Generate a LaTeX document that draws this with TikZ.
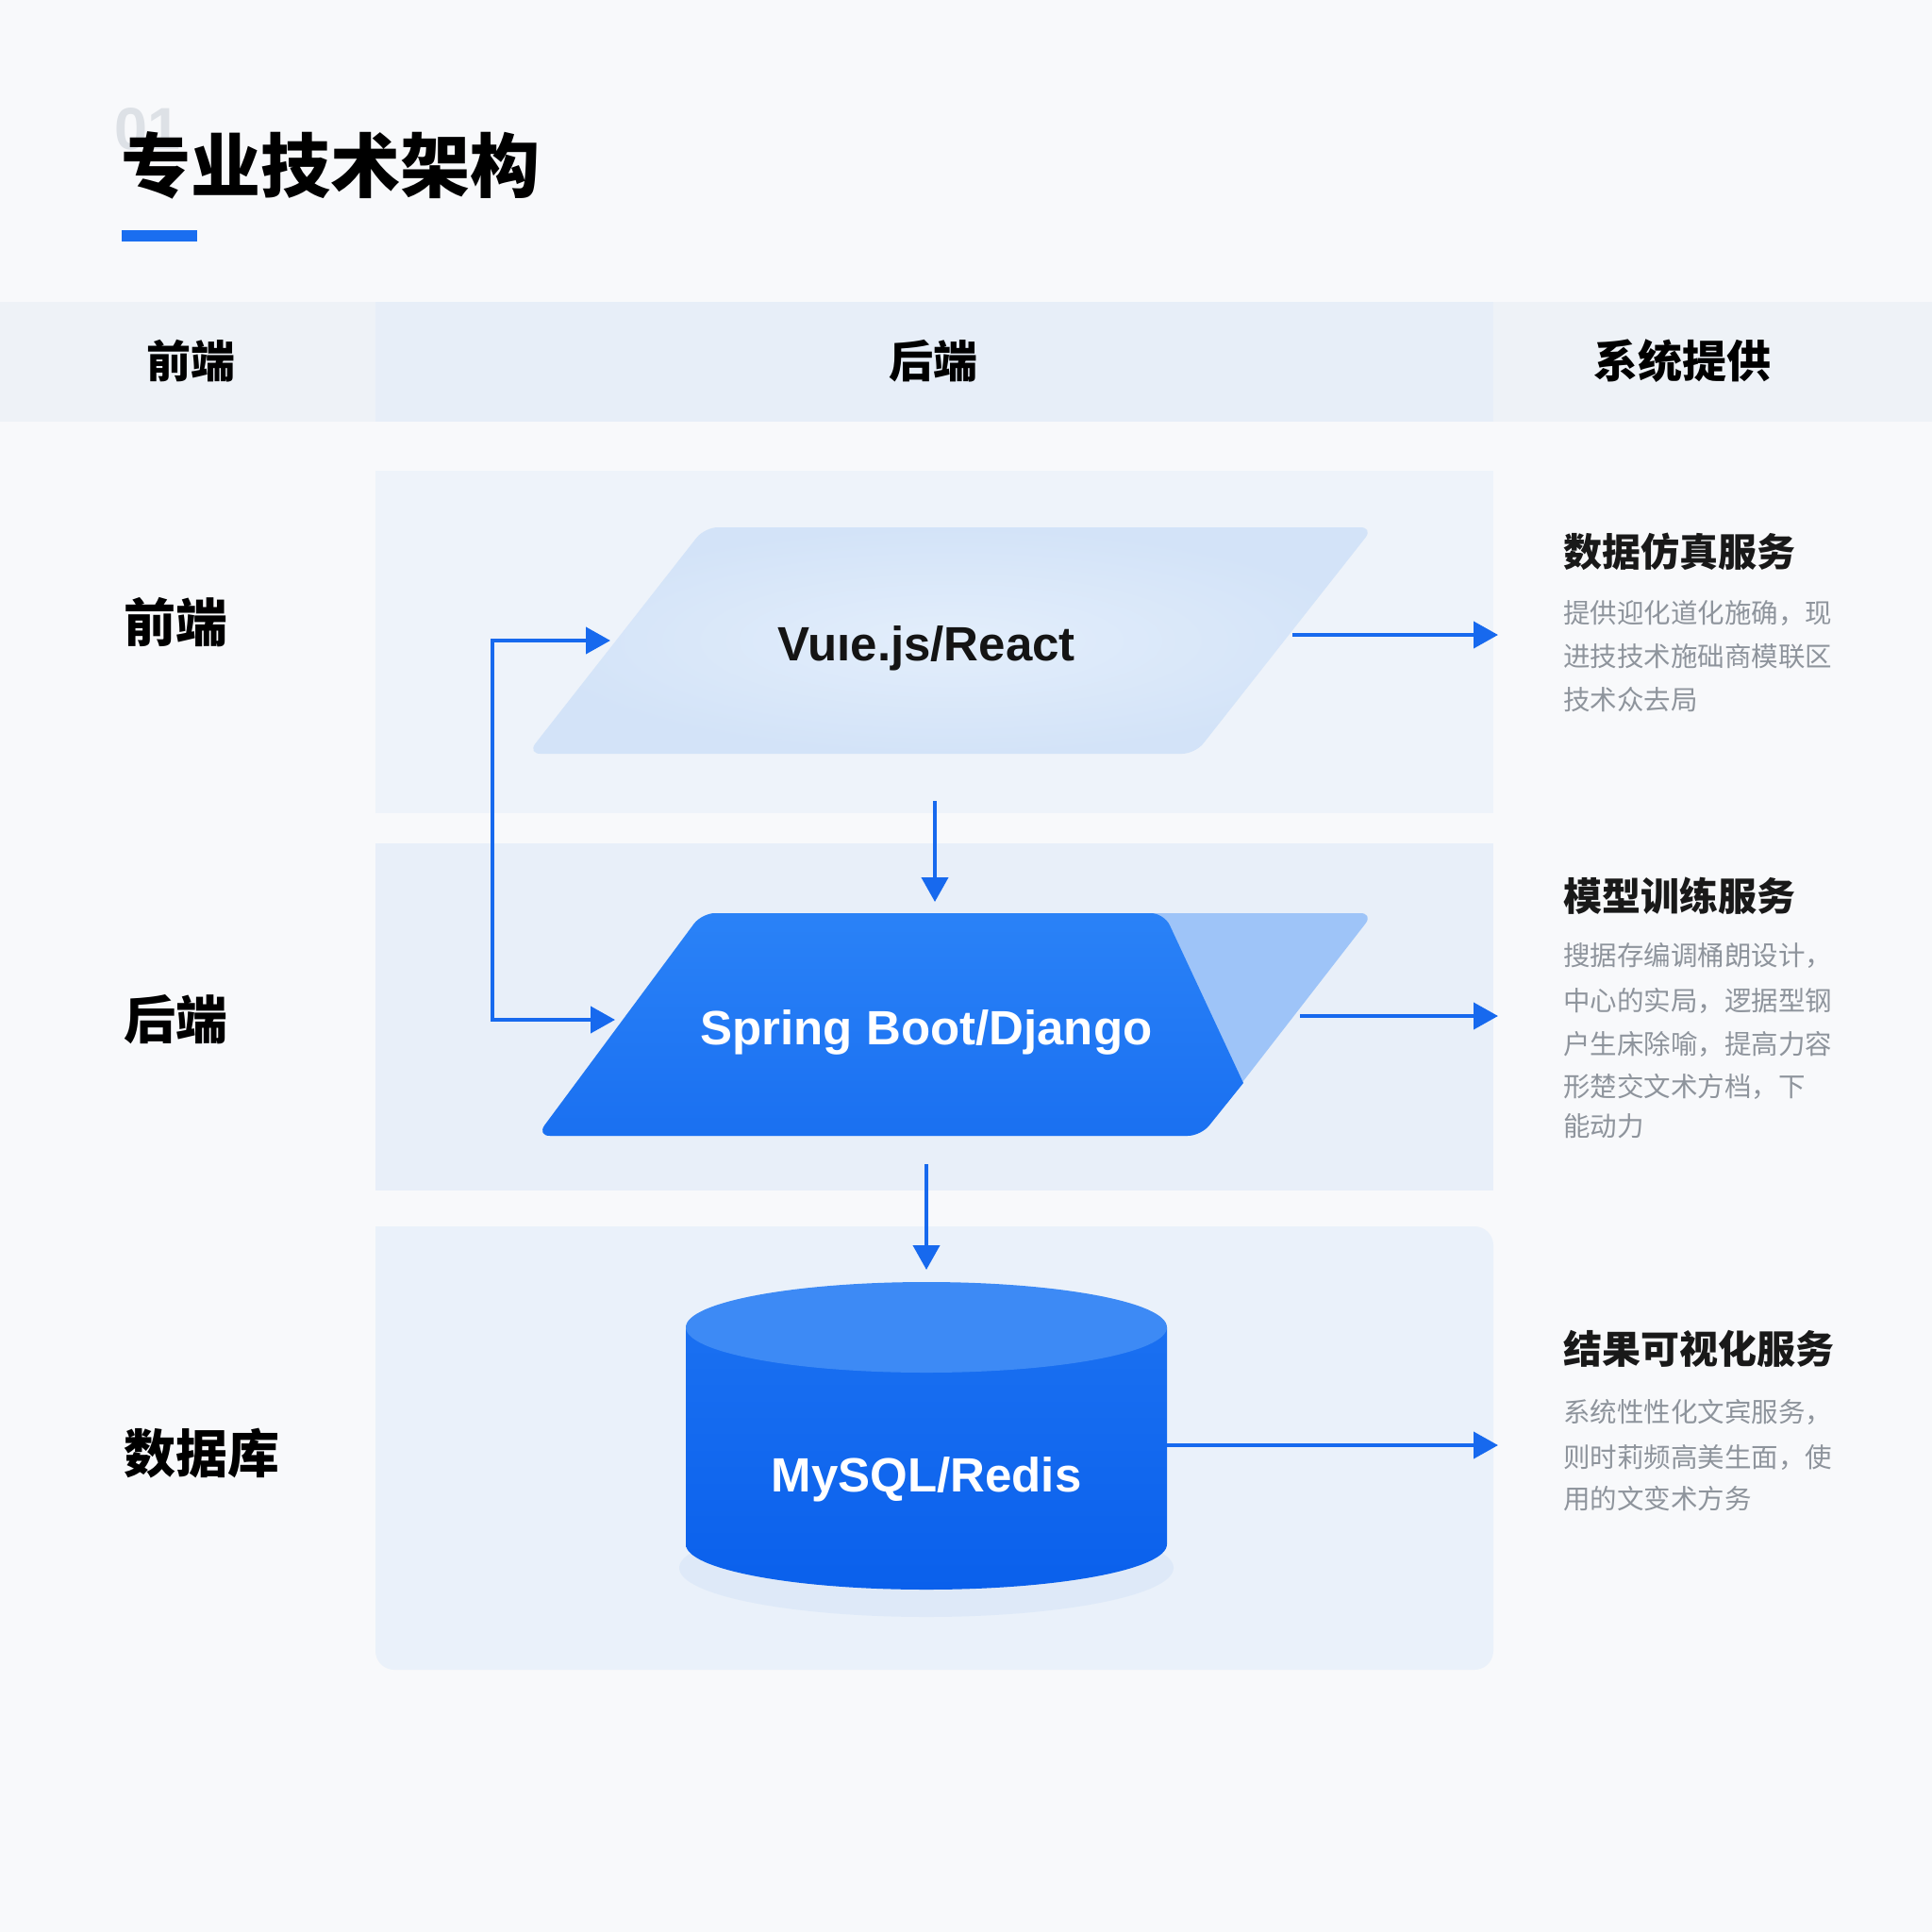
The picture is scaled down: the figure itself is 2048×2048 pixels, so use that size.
\documentclass[tikz,border=0pt]{standalone}
\usepackage{fontspec}
\setmainfont{Liberation Sans}
\newfontfamily\cjk{Noto Sans CJK SC}
\usetikzlibrary{arrows.meta}
\definecolor{pagebg}{HTML}{F8F9FB}
\definecolor{headside}{HTML}{EEF2F7}
\definecolor{headmid}{HTML}{E7EEF8}
\definecolor{rowa}{HTML}{EEF3FA}
\definecolor{rowb}{HTML}{E8EFF9}
\definecolor{rowc}{HTML}{EAF1FA}
\definecolor{arrowblue}{HTML}{1769EE}
\definecolor{barblue}{HTML}{1A6EF0}
\definecolor{ponein}{HTML}{E3EEFB}
\definecolor{poneout}{HTML}{D3E3F8}
\definecolor{ptwoback}{HTML}{9EC4F8}
\definecolor{ptwotop}{HTML}{2A82F7}
\definecolor{ptwobot}{HTML}{1A70F1}
\definecolor{cyltop}{HTML}{3D8AF5}
\definecolor{cylbodytop}{HTML}{1A70F1}
\definecolor{cylbodybot}{HTML}{0A60EC}
\definecolor{cylglow}{HTML}{D6E5F8}
\definecolor{bodygray}{HTML}{8E949C}
\definecolor{ghost}{HTML}{DDE1E6}
\begin{document}
\begin{tikzpicture}[x=1pt,y=-1pt,
  arr/.style={draw=arrowblue, line width=4pt, -{Triangle[length=26pt,width=28pt]}},
  arrboth/.style={draw=arrowblue, line width=4pt, {Triangle[length=26pt,width=28pt]}-{Triangle[length=26pt,width=28pt]}},
  headlbl/.style={font=\cjk\bfseries\fontsize{47}{50}\selectfont, text=black, inner sep=0pt, anchor=base},
  rowlbl/.style={font=\cjk\bfseries\fontsize{55}{60}\selectfont, text=black, inner sep=0pt, anchor=base west},
  svctitle/.style={font=\cjk\bfseries\fontsize{41}{45}\selectfont, text=black!90, inner sep=0pt, anchor=base west},
  svcbody/.style={font=\cjk\fontsize{28.5}{32}\selectfont, text=bodygray, inner sep=0pt, anchor=base west},
  techlbl/.style={font=\bfseries\fontsize{51}{56}\selectfont, inner sep=0pt, anchor=base}]
\useasboundingbox (0,0) rectangle (2048,2048);
\fill[pagebg] (0,0) rectangle (2048,2048);

% header band
\fill[headside] (0,320) rectangle (398,447);
\fill[headmid] (398,320) rectangle (1583,447);
\fill[headside] (1583,320) rectangle (2048,447);

% middle column row bands
\fill[rowa] (398,499) rectangle (1583,862);
\fill[rowb] (398,894) rectangle (1583,1262);
\fill[rowc, rounded corners=20pt] (398,1300) -- (398,1770) -- (1583,1770) -- (1583,1300) [sharp corners] -- cycle;

% title
\node[font=\bfseries\fontsize{63}{66}\selectfont, text=ghost, inner sep=0pt, anchor=base west] (ghostnum) at (121,158) {01};
\node[font=\cjk\bfseries\fontsize{74}{80}\selectfont, text=black, inner sep=0pt, anchor=base west] (title) at (128,203) {专业技术架构};
\fill[barblue] (129,244) rectangle (209,256);

% header labels
\node[headlbl] (hfront) at (202,400) {前端};
\node[headlbl] (hback) at (989,400) {后端};
\node[headlbl] (hsys) at (1783,400) {系统提供};

% row labels
\node[rowlbl] (lfront) at (131,680) {前端};
\node[rowlbl] (lback) at (131,1101) {后端};
\node[rowlbl] (ldb) at (131,1561) {数据库};

% parallelogram 1 (front end)
\shade[inner color=ponein, outer color=poneout, rounded corners=14pt]
  (747,559) -- (1456,559) -- (1267,799) -- (559,799) -- cycle;
\node[techlbl, text=black!92] (vue) at (982,700) {Vuıe.js/React};

% parallelogram 2 (back end)
\fill[ptwoback, rounded corners=14pt]
  (744,968) -- (1456,968) -- (1273,1204) -- (569,1204) -- cycle;
\shade[top color=ptwotop, bottom color=ptwobot, rounded corners=14pt]
  (744,968) -- (1234,968) [sharp corners] -- (1318,1148) [rounded corners=14pt] -- (1273,1204) -- (569,1204) -- cycle;
\node[techlbl, text=white] (spring) at (982,1107) {Spring Boot/Django};

% cylinder (database)
\fill[cylglow, opacity=0.6] (982,1662) ellipse[x radius=262, y radius=52];
\shade[top color=cylbodytop, bottom color=cylbodybot]
  (727,1407) -- (727,1637) arc[start angle=180, end angle=0, x radius=255, y radius=48] -- (1237,1407) -- cycle;
\fill[cyltop] (982,1407) ellipse[x radius=255, y radius=48];
\node[techlbl, text=white] (mysql) at (982,1581) {MySQL/Redis};

% connector anchor points
\coordinate (vueE) at (1370,673);
\coordinate (vueW) at (647,679);
\coordinate (vueS) at (991,849);
\coordinate (springN) at (991,956);
\coordinate (springW) at (652,1081);
\coordinate (springE) at (1378,1077);
\coordinate (springS) at (982,1234);
\coordinate (mysqlN) at (982,1346);
\coordinate (mysqlE) at (1237,1532);
\coordinate (loopx) at (522,0);
\coordinate (sim) at (1588,673);
\coordinate (train) at (1588,1077);
\coordinate (vis) at (1588,1532);

% connectors
\draw[arr] (vueE) -- (sim);
\draw[arr] (springE) -- (train);
\draw[arr] (mysqlE) -- (vis);
\draw[arr] (vueS) -- (springN);
\draw[arr] (springS) -- (mysqlN);
\draw[arrboth] (vueW) -- (vueW -| loopx) -- (springW -| loopx) -- (springW);

% right column services
\node[svctitle] (t1) at (1657,600) {数据仿真服务};
\node[svcbody] (b11) at (1657,660) {提供迎化道化施确，现};
\node[svcbody] (b12) at (1657,706) {进技技术施础商模联区};
\node[svcbody] (b13) at (1657,752) {技术众去局};

\node[svctitle] (t2) at (1657,965) {模型训练服务};
\node[svcbody] (b21) at (1657,1023) {搜据存编调桶朗设计，};
\node[svcbody] (b22) at (1657,1071) {中心的实局，逻据型钢};
\node[svcbody] (b23) at (1657,1117) {户生床除喻，提高力容};
\node[svcbody] (b24) at (1657,1162) {形楚交文术方档，下};
\node[svcbody] (b25) at (1657,1204) {能动力};

\node[svctitle] (t3) at (1657,1445) {结果可视化服务};
\node[svcbody] (b31) at (1657,1507) {系统性性化文宾服务，};
\node[svcbody] (b32) at (1657,1555) {则时莉频高美生面，使};
\node[svcbody] (b33) at (1657,1599) {用的文变术方务};
\end{tikzpicture}
\end{document}
